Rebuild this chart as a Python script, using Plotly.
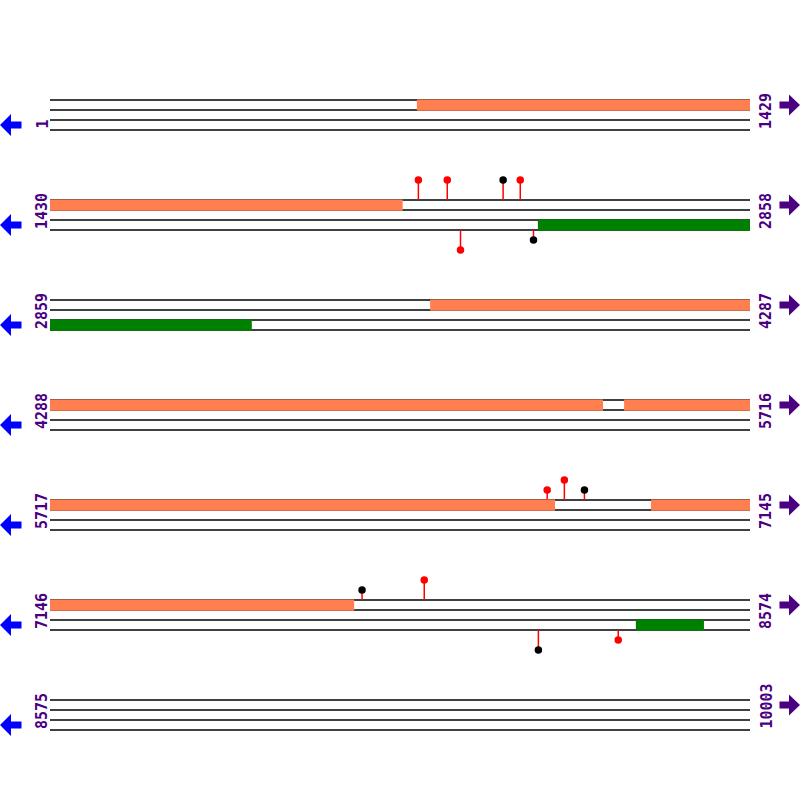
import plotly.graph_objects as go

# ---- data ----
row_starts = [1, 1430, 2859, 4288, 5717, 7146, 8575]
row_ends = [1429, 2858, 4287, 5716, 7145, 8574, 10003]
row_len = 1429

feat_start = [750, 3635, 5460, 6944, 2426, 8342]
feat_end = [2150, 5417, 6748, 7767, 3271, 8481]
feat_strand = ["+", "+", "+", "+", "-", "-"]
feat_color = ["#FF7F50", "#FF7F50", "#FF7F50", "#FF7F50", "#008000", "#008000"]

site_pos = [2182, 2241, 2355, 2390, 2268, 2417, 6732, 6767, 6808, 7783, 7910, 8143, 8306]
site_strand = ["+", "+", "+", "+", "-", "-", "+", "+", "+", "+", "+", "-", "-"]
site_level = [2, 2, 2, 2, 2, 1, 1, 2, 1, 1, 2, 2, 1]
site_color = ["red", "red", "black", "red", "red", "black", "red", "red", "black",
              "black", "red", "black", "red"]

# ---- layout constants ----
W = H = 800
L_PX, R_PX = 50, 750
bp_per_px = row_len / (R_PX - L_PX)
x_min = -L_PX * bp_per_px
x_max = row_len + (W - R_PX) * bp_per_px
ROW_TOP0, ROW_STEP, TRACK_GAP = 100, 100, 10
LEVEL_PX = 10
LABEL_COLOR = "#4B0082"


def row_top(i):
    return ROW_TOP0 + i * ROW_STEP


def row_of(pos):
    for i, s in enumerate(row_starts):
        if s <= pos <= row_ends[i]:
            return i
    return len(row_starts) - 1


fig = go.Figure()
shapes = []

# strand lines
lx, ly = [], []
for i, s in enumerate(row_starts):
    for k in range(4):
        y = row_top(i) + k * TRACK_GAP
        lx += [0, row_ends[i] - s + 1, None]
        ly += [y, y, None]
fig.add_trace(go.Scatter(x=lx, y=ly, mode="lines", line=dict(color="black", width=1.3),
                         hoverinfo="skip", showlegend=False))

# feature boxes (split across rows)
for a, b, st, col in zip(feat_start, feat_end, feat_strand, feat_color):
    for i, s in enumerate(row_starts):
        e = row_ends[i]
        lo, hi = max(a, s), min(b, e + 1)
        if lo >= hi:
            continue
        base = row_top(i) + (0 if st == "+" else 2 * TRACK_GAP)
        shapes.append(dict(type="rect", xref="x", yref="y", x0=lo - s, x1=hi - s,
                           y0=base - 0.5, y1=base + TRACK_GAP + 0.7,
                           fillcolor=col, line=dict(width=0), layer="above"))

# lollipops
sx, sy, mx, my, mc = [], [], [], [], []
for p, st, lv, c in zip(site_pos, site_strand, site_level, site_color):
    i = row_of(p)
    off = p - row_starts[i]
    if st == "+":
        y0 = row_top(i)
        y1 = y0 - lv * LEVEL_PX
    else:
        y0 = row_top(i) + 3 * TRACK_GAP
        y1 = y0 + lv * LEVEL_PX
    sx += [off, off, None]
    sy += [y0, y1, None]
    mx.append(off)
    my.append(y1)
    mc.append(c)
fig.add_trace(go.Scatter(x=sx, y=sy, mode="lines", line=dict(color="red", width=1.5),
                         hoverinfo="skip", showlegend=False))
fig.add_trace(go.Scatter(x=mx, y=my, mode="markers", marker=dict(color=mc, size=7.5, line=dict(width=0)),
                         hoverinfo="skip", showlegend=False))

# labels
annotations = []
lab_font = dict(family="DejaVu Sans Mono", size=15, color=LABEL_COLOR)
for i, s in enumerate(row_starts):
    yb = row_top(i) + 3 * TRACK_GAP
    annotations.append(dict(x=-8 * bp_per_px, y=yb, xref="x", yref="y", text="<b>%d</b>" % s,
                            textangle=-90, showarrow=False, xanchor="center", yanchor="bottom",
                            font=lab_font, borderpad=0))
    annotations.append(dict(x=row_len + 16 * bp_per_px, y=yb, xref="x", yref="y", text="<b>%d</b>" % row_ends[i],
                            textangle=-90, showarrow=False, xanchor="center", yanchor="bottom",
                            font=lab_font, borderpad=0))


def px_path(pts):
    parts = []
    for j, (px, py) in enumerate(pts):
        parts.append(("M" if j == 0 else "L") + f"{px / W:.5f},{1 - py / H:.5f}")
    return " ".join(parts) + " Z"


for i in range(len(row_starts)):
    cy = row_top(i) + 2.5 * TRACK_GAP
    left = [(0, cy), (11, cy - 11), (11, cy - 3.5), (21.5, cy - 3.5), (21.5, cy + 3.5), (11, cy + 3.5), (11, cy + 11)]
    shapes.append(dict(type="path", xref="paper", yref="paper", path=px_path(left),
                       fillcolor="#0000FF", line=dict(width=0)))
    cy = row_top(i) + 0.5 * TRACK_GAP
    right = [(800, cy), (789, cy - 10.5), (789, cy - 3.5), (779.5, cy - 3.5), (779.5, cy + 3.5), (789, cy + 3.5), (789, cy + 10.5)]
    shapes.append(dict(type="path", xref="paper", yref="paper", path=px_path(right),
                       fillcolor=LABEL_COLOR, line=dict(width=0)))

fig.update_layout(
    width=W, height=H, margin=dict(l=0, r=0, t=0, b=0),
    paper_bgcolor="white", plot_bgcolor="white",
    xaxis=dict(range=[x_min, x_max], visible=False, fixedrange=True),
    yaxis=dict(range=[H, 0], visible=False, fixedrange=True),
    shapes=shapes, annotations=annotations, showlegend=False,
)
fig.write_html("out.html", config={"displayModeBar": False},
               post_script="document.body.style.margin='0px';document.body.style.overflow='hidden';")
